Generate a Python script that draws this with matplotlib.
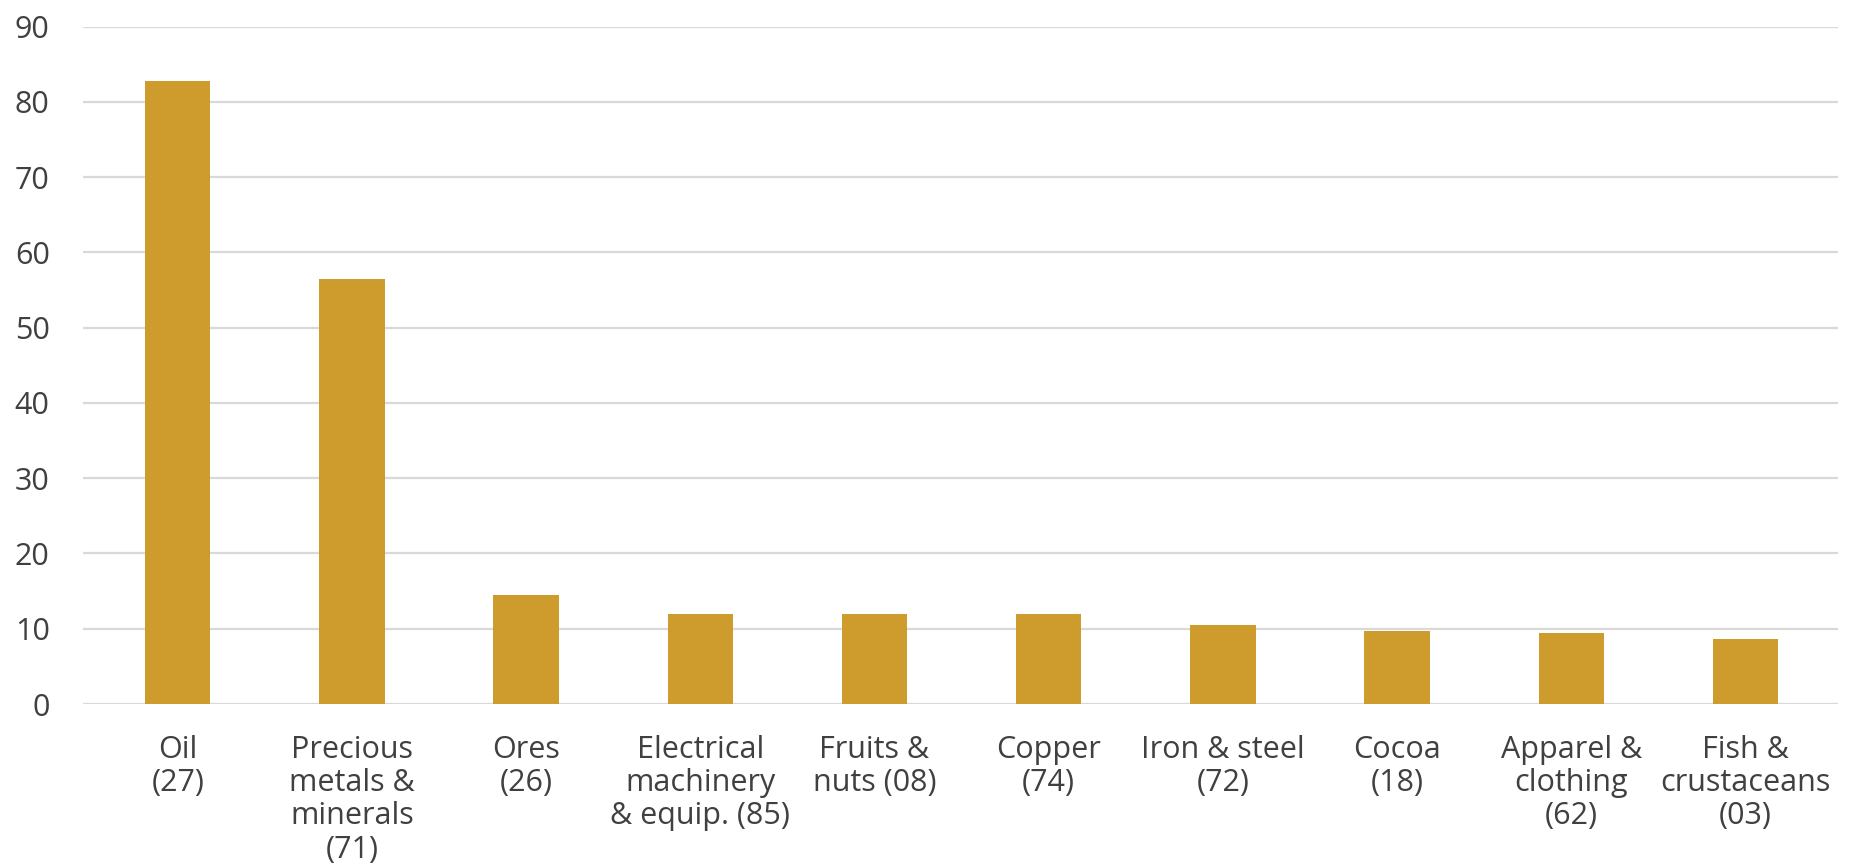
import matplotlib.pyplot as plt

# Export categories (HS code in brackets) and values
categories = ['Oil\n(27)', 'Precious\nmetals &\nminerals\n(71)', 'Ores\n(26)',
              'Electrical\nmachinery\n& equip. (85)', 'Fruits &\nnuts (08)',
              'Copper\n(74)', 'Iron & steel\n(72)', 'Cocoa\n(18)',
              'Apparel &\nclothing\n(62)', 'Fish &\ncrustaceans\n(03)']
values = [82.8, 56.5, 14.5, 11.9, 11.9, 11.9, 10.5, 9.7, 9.4, 8.7]
yticks = [0, 10, 20, 30, 40, 50, 60, 70, 80, 90]

plt.rcParams['font.family'] = ['Open Sans', 'DejaVu Sans']

fig = plt.figure(figsize=(18.65, 8.65), dpi=100)
ax = fig.add_axes([0.0445, 0.1861, 0.9410, 0.7831])

x = range(len(categories))
ax.bar(x, values, width=0.376, color='#CE9B2D', zorder=2)

ax.set_xlim(-0.544, 9.531)
ax.set_ylim(0, 90)
ax.set_yticks(yticks)
ax.set_xticks(list(x))
ax.set_xticklabels(categories, linespacing=1.15)
ax.yaxis.grid(True, color='#d9d9d9', linewidth=1.6, zorder=0)
ax.set_axisbelow(True)

for s in ax.spines.values():
    s.set_visible(False)
ax.tick_params(axis='both', length=0, labelsize=22, labelcolor='#404040')
ax.tick_params(axis='y', pad=24)
ax.tick_params(axis='x', pad=22)

fig.savefig('out.png', dpi=100, facecolor='white')
